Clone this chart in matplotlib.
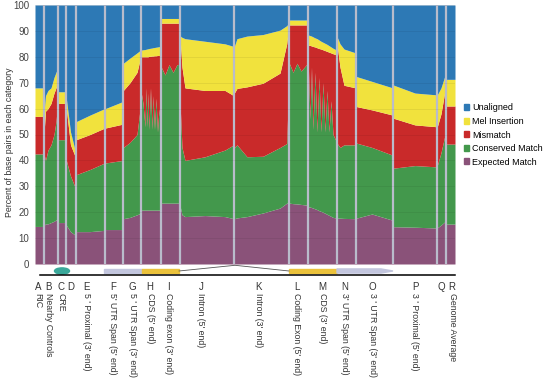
"""Stacked alignment categories along an idealised gene model"""
import numpy as np
import matplotlib.pyplot as plt
from matplotlib.patches import Rectangle, Ellipse, Polygon, Patch

plt.rcParams['font.family'] = ['Liberation Sans', 'DejaVu Sans']

# ---- data: position along the gene model and cumulative tops (%) ----
pos = [0, 8.7,
       9.3, 10.5, 13, 16, 19, 21, 22.7,
       23.3, 30.7,
       31.3, 35.5, 40.7,
       41.3, 55, 69.7,
       70.3, 87.7,
       88.3, 95, 102, 105.7,
       106.3, 108, 110, 111, 112, 113, 114, 115.5, 117, 118, 119.5, 121, 122.5, 124, 125.7,
       126.3, 130, 134, 138, 142, 144.7,
       145.3, 147, 150, 170, 190, 198.7,
       199.3, 202, 212, 228, 245, 251.7, 253.7,
       254.3, 258, 262, 266, 272.7,
       273.3, 275, 276.5, 278, 280, 282, 284, 286, 288, 290, 292, 294, 296, 298, 301.7,
       302.3, 305, 309, 320.7,
       321.3, 337, 357.7,
       358.3, 380, 401.7,
       402.3, 406, 410.7,
       411.3, 420]

expected_top = [14.5, 14.5,
                15, 15.5, 15.5, 16, 16.5, 17, 17,
                16, 16,
                15, 12.5, 11,
                12.5, 12.5, 13,
                13.3, 13.3,
                17.5, 18, 19, 19.6,
                20.8, 20.8, 20.8, 20.8, 20.8, 20.8, 20.8, 20.8, 20.8, 20.8, 20.8, 20.8, 20.8, 20.8, 20.8,
                23.5, 23.5, 23.5, 23.5, 23.5, 23.5,
                22, 19, 18.3, 18.7, 18.3, 17.5,
                17.5, 17.8, 18.3, 19.7, 21.6, 23.5, 23.5,
                23.5, 23.3, 23.2, 23, 22.7,
                22, 22, 21.8, 21.6, 21.3, 21, 20.6, 20.3, 20, 19.6, 19.2, 18.8, 18.4, 18, 17.7,
                17.7, 17.7, 17.6, 17.5,
                17.7, 19.3, 16.9,
                14.4, 14.2, 13.9,
                14, 15, 16.6,
                15.4, 15.4]

conserved_top = [42.5, 42.5,
                 42, 40, 44, 46, 50, 55, 62,
                 48, 48,
                 40, 34, 29,
                 34.5, 36.5, 39,
                 39, 40,
                 45, 47, 50, 62,
                 66, 62, 53, 68, 53, 66, 52, 68, 52, 65, 52, 64, 51, 60, 50,
                 76, 73, 77, 74, 77, 77,
                 60, 45, 40, 41.4, 44, 46,
                 45, 46, 41.4, 41.6, 45, 46.5, 70,
                 77.5, 74, 77.5, 74.5, 77.5,
                 77, 56, 76, 52, 74, 51, 72, 51, 70, 51, 67, 51, 63, 50, 47,
                 46.5, 45, 46, 46,
                 46.7, 45, 42,
                 37, 38, 37.5,
                 38, 43, 51,
                 46.3, 46.3]

mismatch_top = [57, 57,
                52, 59, 60, 62, 66, 68, 70,
                62, 62,
                60, 46, 41,
                48, 50, 52.5,
                52.5, 54,
                67, 70, 74, 80,
                80, 80, 80, 80, 80, 80, 80.2, 80.2, 80.3, 80.3, 80.4, 80.4, 80.5, 80.5, 80.5,
                93, 93, 93, 93, 93, 93,
                86, 76, 68, 67, 67, 65,
                66, 67.8, 68.4, 69.8, 73.7, 85, 92,
                92.3, 92.3, 92.3, 92.3, 92.3,
                84.5, 84.4, 84.2, 84, 83.8, 83.5, 83.2, 83, 82.7, 82.4, 82.1, 81.8, 81.5, 81.2, 80.7,
                84, 76, 69, 68,
                60.8, 59.5, 57.5,
                56.3, 53.7, 53,
                53, 58, 68.5,
                61, 61]

mel_insertion_top = [68, 68,
                     60, 65, 67, 68, 72, 74, 75.5,
                     66.5, 66.5,
                     64, 51, 43,
                     55, 57.5, 60,
                     60, 62.7,
                     77.5, 79.5, 81.5, 82.6,
                     82.6, 82.7, 82.8, 82.9, 83, 83.1, 83.2, 83.3, 83.4, 83.5, 83.6, 83.7, 83.8, 83.9, 84,
                     94.8, 94.8, 94.8, 94.8, 94.8, 94.8,
                     88, 87.5, 87, 86, 85, 84,
                     84, 87, 88, 88.6, 90.3, 92, 93,
                     94.2, 94.2, 94.2, 94.2, 94.2,
                     88.4, 88.2, 88, 87.7, 87.3, 87, 86.5, 86, 85.6, 85.2, 84.8, 84.3, 83.8, 83.3, 82.6,
                     87.5, 85, 83, 81.5,
                     72.4, 70.5, 68,
                     69.1, 66, 65.3,
                     65.3, 68, 73.6,
                     71.3, 71.3]

# region boundaries and bottom labels
boundaries = [9, 23, 31, 41, 70, 88, 106, 126, 145, 199, 254, 273, 302, 321, 358, 402, 411]
label_x = [3, 13, 26, 36, 52, 78, 97, 115, 133, 166, 223, 262, 287, 310, 337, 380, 406, 417]
letters = list('ABCDEFGHIJKLMNOPQR')
names = ['RIC', 'Nearby Controls', 'CRE', '', "5 ' Proximal (3' end)", "5' UTR Span (5' end)",
         "5 ' UTR Span (3' end)", "CDS (5' end)", "Coding exon (3' end)", "Intron (5' end)",
         "Intron (3' end)", "Coding Exon (5' end)", "CDS (3' end)", "3' UTR Span (5' end)",
         "3 ' UTR Span (3' end)", "3 ' Proximal (5' end)", '', 'Genome Average']

categories = ['Unaligned', 'Mel Insertion', 'Mismatch', 'Conserved Match', 'Expected Match']
colors = ['#2d79b5', '#f1e23d', '#c92a2a', '#43984c', '#8a5279']

fig = plt.figure(figsize=(5.44, 3.82), dpi=100)
ax = fig.add_axes([35/544, 1-264/382, 420/544, 259/382])

x = np.array(pos)
layers = [np.zeros_like(x), np.array(expected_top), np.array(conserved_top),
          np.array(mismatch_top), np.array(mel_insertion_top), np.full_like(x, 100.0)]
fill_colors = colors[::-1]
for i in range(5):
    ax.fill_between(x, layers[i], layers[i+1], color=fill_colors[i], lw=0)

for b in boundaries:
    ax.axvline(b, color='#b9bccb', lw=1.6)

ax.set_xlim(0, 420); ax.set_ylim(0, 100)
ax.set_yticks(range(0, 101, 10))
ax.set_xticks([])
ax.tick_params(axis='y', length=0, labelsize=7, labelcolor='#444444', pad=4)
for s in ax.spines.values():
    s.set_visible(False)
ax.grid(axis='y', color='black', alpha=0.07, lw=0.6)
ax.set_axisbelow(False)
fig.text(10/544, 1-142/382, 'Percent of base pairs in each category', fontsize=6.3,
         color='#333333', rotation=90, ha='center', va='center')

# ---- gene model below the axis ----
ax.plot([5, 420], [-4.25, -4.25], color='black', lw=1.1, clip_on=False)
ax.add_patch(Ellipse((27, -2.7), 15, 2.4, color='#3aa89a', clip_on=False))
ax.add_patch(Rectangle((69, -3.5), 38, 1.6, color='#c3c6de', clip_on=False))
ax.add_patch(Rectangle((107, -3.5), 37, 1.6, color='#ebc23b', clip_on=False))
ax.plot([144, 200, 254], [-2.7, -0.5, -2.7], color='#555555', lw=0.6, clip_on=False)
ax.add_patch(Rectangle((254, -3.5), 48, 1.6, color='#ebc23b', clip_on=False))
ax.add_patch(Polygon([[302, -3.5], [346, -3.5], [358, -2.7], [346, -1.9], [302, -1.9]],
                     closed=True, color='#c3c6de', clip_on=False))

for lx, let, nm in zip(label_x, letters, names):
    ax.text(lx, -8.9, let, fontsize=7, ha='center', va='center', color='#333333', clip_on=False)
    if nm:
        ax.text(lx, -11.2, nm, fontsize=6.3, rotation=270, ha='center', va='top',
                color='#333333', clip_on=False)

handles = [Patch(color=c) for c in colors]
fig.legend(handles, categories, loc='center left', bbox_to_anchor=(464/544, 1-135/382),
           frameon=False, fontsize=6.5, handlelength=0.6, handleheight=0.6,
           handletextpad=0.3, labelspacing=0.5, borderpad=0, borderaxespad=0)

plt.savefig('out.png', dpi=100)
